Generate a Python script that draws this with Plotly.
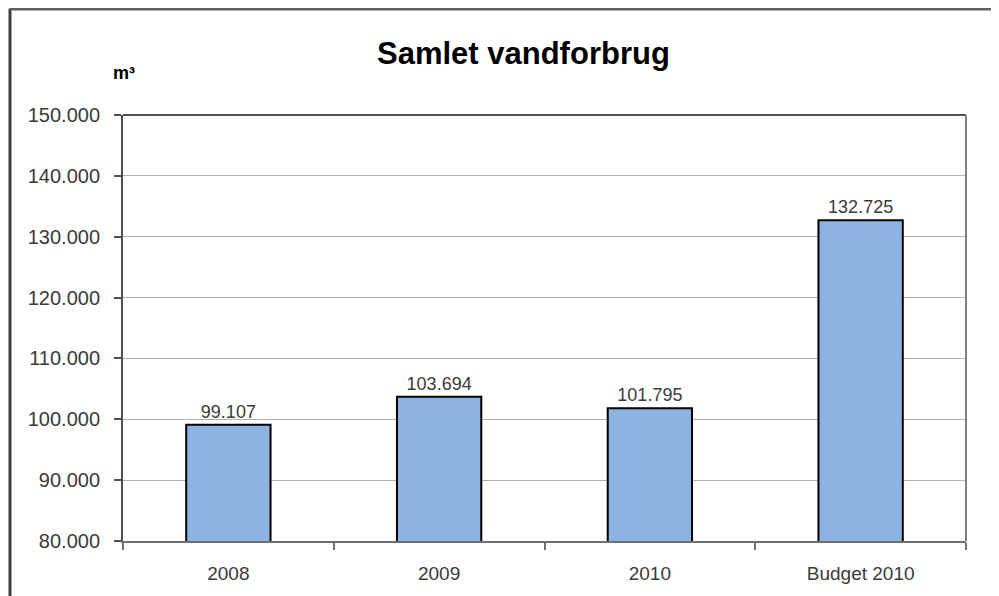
import plotly.graph_objects as go

categories = ["2008", "2009", "2010", "Budget 2010"]
values = [99107, 103694, 101795, 132725]
y_ticks = [80000, 90000, 100000, 110000, 120000, 130000, 140000, 150000]

# page has an 8px body margin; figure coordinates = page coordinates - 8
OFF = 8
W, H = 999 - OFF, 596 - OFF
L, T = 123 - OFF, 115 - OFF
R = W - (966 - OFF)
B = H - (543 - OFF)
pw, ph = W - L - R, H - T - B


def px(xpage):
    return (xpage - OFF - L) / pw


def py(ypage):
    return 1 + (T - (ypage - OFF)) / ph


FONT = "Liberation Sans, Arial"

fig = go.Figure()
fig.add_trace(go.Bar(
    x=categories, y=values,
    marker=dict(color="#8DB3E2", line=dict(color="#000000", width=2)),
    text=values, texttemplate="%{y:,.0f}", textposition="outside",
    textfont=dict(family=FONT, size=18, color="#3a3a3a"),
    cliponaxis=False, width=0.4,
))

fig.update_layout(
    width=W, height=H,
    margin=dict(l=L, r=R, t=T, b=B, pad=0),
    paper_bgcolor="white", plot_bgcolor="white",
    separators=",.",
    showlegend=False,
    font=dict(family=FONT, color="#3a3a3a"),
    xaxis=dict(
        type="category", showgrid=False, ticks="outside", tickson="boundaries",
        ticklen=7, tickcolor="#707070", tickwidth=2,
        showline=True, linecolor="#707070", linewidth=2,
        tickfont=dict(size=19, color="#3a3a3a"), ticklabelstandoff=14,
    ),
    yaxis=dict(
        range=[80000, 150000], tickvals=y_ticks, tickformat=",.0f",
        showgrid=True, gridcolor="#b0b0b0", gridwidth=1,
        ticks="outside", ticklen=7, tickcolor="#505050", tickwidth=2,
        showline=True, linecolor="#505050", linewidth=2,
        tickfont=dict(size=20, color="#3a3a3a"), zeroline=False,
        ticklabelstandoff=10,
    ),
    shapes=[
        dict(type="line", xref="paper", yref="paper", x0=0, x1=1, y0=1, y1=1,
             line=dict(color="#505050", width=2)),
        dict(type="line", xref="paper", yref="paper", x0=1, x1=1, y0=0, y1=1,
             line=dict(color="#808080", width=2)),
        # outer frame
        dict(type="line", xref="paper", yref="paper",
             x0=px(10), x1=px(10), y0=py(8), y1=py(600),
             line=dict(color="#404040", width=3)),
        dict(type="line", xref="paper", yref="paper",
             x0=px(10), x1=px(1005), y0=py(8.5), y1=py(8.5),
             line=dict(color="#606060", width=3)),
    ],
    annotations=[
        dict(text="<b>Samlet vandforbrug</b>", xref="paper", yref="paper",
             x=px(523), y=py(53), xanchor="center", yanchor="middle",
             showarrow=False, font=dict(size=31, color="#000000", family=FONT)),
        dict(text="<b>m³</b>", xref="paper", yref="paper",
             x=px(124), y=py(73), xanchor="center", yanchor="middle",
             showarrow=False, font=dict(size=18, color="#000000", family=FONT)),
    ],
)

fig.write_html("out.html")
